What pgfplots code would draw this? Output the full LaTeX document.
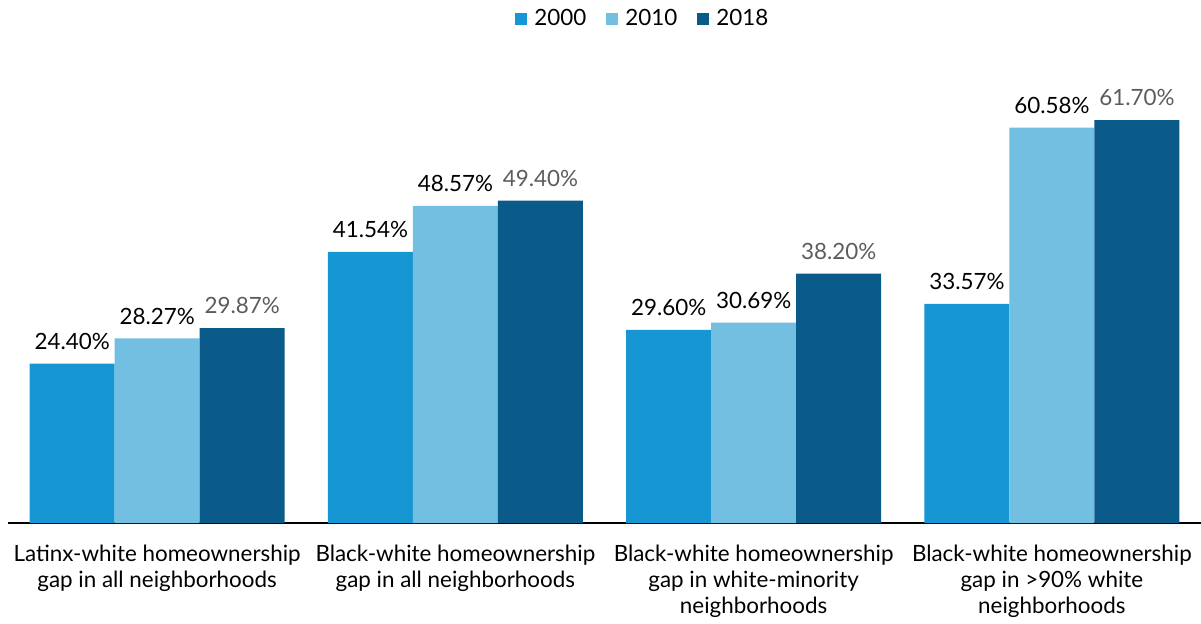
\documentclass[border=0pt]{standalone}
\usepackage{fontspec}
\setmainfont{Lato}
\usepackage{pgfplots}
\pgfplotsset{compat=1.18}
\definecolor{c2000}{HTML}{1696D2}
\definecolor{c2010}{HTML}{73BFE2}
\definecolor{c2018}{HTML}{0A5A8A}
\definecolor{lblgray}{HTML}{5C5C5C}
\begin{document}
\begin{tikzpicture}[x=1pt,y=1pt]
% 1 px = 0.5 pt ; picture 1201x623 px
\useasboundingbox (-4,-50) rectangle (596.5,261.5);
\begin{axis}[
    at={(0,0)}, anchor=south west,
    scale only axis,
    width=596.5pt, height=228.5pt,
    xmin=-0.5, xmax=3.5,
    ymin=0, ymax=70,
    ybar=0pt,
    bar width=42.5pt,
    axis x line*=bottom,
    axis y line=none,
    x axis line style={line width=1.1pt, black},
    xtick={0,1,2,3},
    xtick style={draw=none},
    xticklabels={
        {Latinx-white homeownership\\gap in all neighborhoods},
        {Black-white homeownership\\gap in all neighborhoods},
        {Black-white homeownership\\gap in white-minority\\neighborhoods},
        {Black-white homeownership\\gap in >90\% white\\neighborhoods}},
    xticklabel style={align=center, font=\fontsize{11.2}{13.1}\selectfont, text=black, yshift=-3pt},
    /pgf/number format/assume math mode=true,
    nodes near coords={\pgfmathprintnumber[fixed,fixed zerofill,precision=2]{\pgfplotspointmeta}\%},
    every node near coord/.append style={font=\fontsize{11.2}{13.1}\selectfont, yshift=3.5pt},
    legend style={at={(0.533,1.103)}, anchor=center, draw=none, legend columns=3,
        font=\fontsize{11.2}{13.1}\selectfont,
        /tikz/every even column/.append style={column sep=8pt}},
    legend image code/.code={\fill[#1] (0pt,-3pt) rectangle (6pt,3pt);
        \path (0pt,0pt) -- (7.5pt,0pt);},
]
\addplot[fill=c2000, draw=none, every node near coord/.append style={text=black}]
    coordinates {(0,24.40) (1,41.54) (2,29.60) (3,33.57)};
\addlegendentry{2000}
\addplot[fill=c2010, draw=none, every node near coord/.append style={text=black}]
    coordinates {(0,28.27) (1,48.57) (2,30.69) (3,60.58)};
\addlegendentry{2010}
\addplot[fill=c2018, draw=none, every node near coord/.append style={text=lblgray}]
    coordinates {(0,29.87) (1,49.40) (2,38.20) (3,61.70)};
\addlegendentry{2018}
\end{axis}
\end{tikzpicture}
\end{document}
